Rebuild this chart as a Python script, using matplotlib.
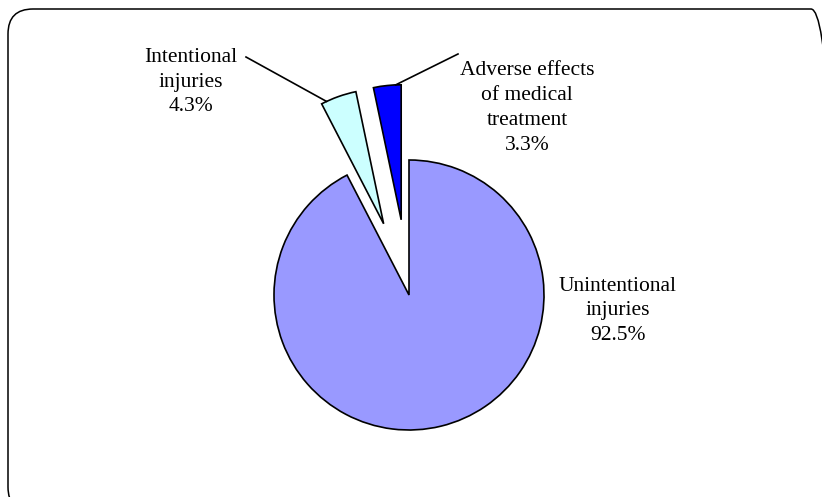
import numpy as np
import matplotlib
matplotlib.use("Agg")
import matplotlib.pyplot as plt
from matplotlib.patches import FancyBboxPatch

# ---- data ----
categories = ["Unintentional\ninjuries", "Intentional\ninjuries", "Adverse effects\nof medical\ntreatment"]
values = [92.5, 4.3, 3.3]
colors = ["#9999FF", "#CCFFFF", "#0000FF"]
explode = [0.0, 0.56, 0.56]

W, H = 822, 497
fig = plt.figure(figsize=(W / 100, H / 100), dpi=100)
ax = fig.add_axes([0, 0, 1, 1])

cx, cy, R = 409, H - 295, 135
wedges, _ = ax.pie(values, colors=colors, explode=[e * R for e in explode],
                   startangle=90, counterclock=False, center=(cx, cy), radius=R,
                   wedgeprops=dict(edgecolor="black", linewidth=1.2),
                   frame=True)
ax.set_xlim(0, W)
ax.set_ylim(0, H)
ax.set_aspect("equal")
ax.axis("off")

font = dict(family="Liberation Serif", size=15.5, color="black", linespacing=1.42,
            ha="center", va="center")

labels = [f"{c}\n{v}%" for c, v in zip(categories, values)]
ax.text(618, H - 311, labels[0], **font)
ax.text(191, H - 82, labels[1], **font)
ax.text(527, H - 108, labels[2], **font)

def arc_point(w, frac):
    th = np.deg2rad(w.theta1 + (w.theta2 - w.theta1) * frac)
    x0, y0 = w.center
    return x0 + w.r * np.cos(th), y0 + w.r * np.sin(th)

# leader lines
p1 = arc_point(wedges[1], 0.85)
ax.plot([246, p1[0]], [H - 57, p1[1]], color="black", lw=1.2)
p2 = arc_point(wedges[2], 0.2)
ax.plot([458, p2[0]], [H - 54, p2[1]], color="black", lw=1.2)

border = FancyBboxPatch((8, H - 512), 828, 503,
                        boxstyle="round,pad=0,rounding_size=25",
                        fill=False, edgecolor="black", linewidth=1.1,
                        clip_on=False)
ax.add_patch(border)

fig.savefig("out.png", dpi=100, facecolor="white")
